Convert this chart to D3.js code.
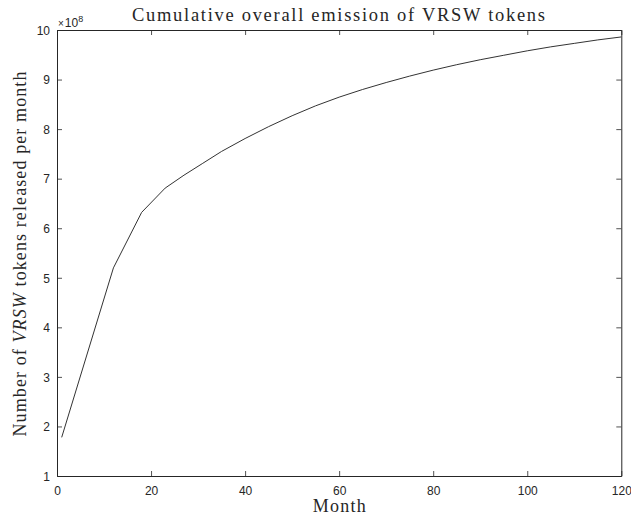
<!DOCTYPE html>
<html>
<head>
<meta charset="utf-8">
<script src="https://cdn.jsdelivr.net/npm/d3@7"></script>
<style>
    body { margin: 0; background: #fff; }
    svg { display: block; }
    .tick text { font-family: "Liberation Sans", Arial, sans-serif; font-size: 12px; fill: #262626; }
    .label { font-family: "Liberation Serif", "Times New Roman", serif; fill: #262626; }
</style>
</head>
<body>
<div id="container"></div>
<script>
"use strict";

const WIDTH = 631;
const HEIGHT = 518;
const MARGIN = { top: 30, right: 10, bottom: 42, left: 57 };

// months and cumulative VRSW tokens
const MONTHS = [1, 12, 18, 23, 27, 31, 35, 40, 45, 50, 55, 60, 65, 70, 75, 80, 85, 90, 95, 100, 105, 110, 115, 120];
const TOKENS = [1.78e8, 5.20e8, 6.32e8, 6.81e8, 7.07e8, 7.31e8, 7.55e8, 7.81e8, 8.05e8, 8.27e8, 8.47e8, 8.645e8,
    8.80e8, 8.94e8, 9.07e8, 9.19e8, 9.30e8, 9.40e8, 9.49e8, 9.58e8, 9.66e8, 9.73e8, 9.80e8, 9.86e8];

const X_TICKS = [0, 20, 40, 60, 80, 100, 120];
const Y_TICKS = [1e8, 2e8, 3e8, 4e8, 5e8, 6e8, 7e8, 8e8, 9e8, 10e8];

const TITLE = "Cumulative overall emission of VRSW tokens";
const X_LABEL = "Month";

const AXIS_COLOR = "#262626";
const TICK_LEN = 5;

const SVG = d3.select("div#container").append("svg")
    .attr("width", WIDTH)
    .attr("height", HEIGHT);

const innerW = 621.3 - MARGIN.left;
const innerH = 476 - MARGIN.top;

const xScale = d3.scaleLinear().domain([0, 120]).range([MARGIN.left, MARGIN.left + innerW]);
const yScale = d3.scaleLinear().domain([1e8, 10e8]).range([MARGIN.top + innerH, MARGIN.top]);

const data = MONTHS.map((m, i) => ({ month: m, tokens: TOKENS[i] }));

// bottom axis with ticks pointing inward
const xaxis = d3.axisBottom(xScale)
    .tickValues(X_TICKS)
    .tickSizeInner(-TICK_LEN)
    .tickSizeOuter(0)
    .tickPadding(10);

const yaxis = d3.axisLeft(yScale)
    .tickValues(Y_TICKS)
    .tickFormat(d => d / 1e8)
    .tickSizeInner(-TICK_LEN)
    .tickSizeOuter(0)
    .tickPadding(7);

const gx = SVG.append("g")
    .attr("transform", `translate(0, ${yScale(1e8)})`)
    .call(xaxis);

const gy = SVG.append("g")
    .attr("transform", `translate(${xScale(0)}, 0)`)
    .call(yaxis);

// mirrored top and right axes, ticks only
const gxTop = SVG.append("g")
    .attr("transform", `translate(0, ${yScale(10e8)})`)
    .call(d3.axisTop(xScale).tickValues(X_TICKS).tickSizeInner(-TICK_LEN).tickSizeOuter(0).tickFormat(""));

const gyRight = SVG.append("g")
    .attr("transform", `translate(${xScale(120)}, 0)`)
    .call(d3.axisRight(yScale).tickValues(Y_TICKS).tickSizeInner(-TICK_LEN).tickSizeOuter(0).tickFormat(""));

[gx, gy, gxTop, gyRight].forEach(function (g) {
    g.selectAll(".domain").attr("stroke", AXIS_COLOR).attr("stroke-width", 1);
    g.selectAll(".tick line").attr("stroke", AXIS_COLOR).attr("stroke-width", 0.8);
});

gx.selectAll(".tick text").attr("dy", "0.71em");
gy.selectAll(".tick text").attr("dy", "0.36em");

// exponent label
const expo = SVG.append("text")
    .attr("x", xScale(0) + 1)
    .attr("y", 27)
    .attr("font-family", "Liberation Sans, Arial, sans-serif")
    .attr("font-size", 10)
    .attr("fill", AXIS_COLOR);
expo.append("tspan").text("\u00d7");
expo.append("tspan").attr("dx", 1).attr("font-size", 12).text("10");
expo.append("tspan").attr("font-size", 9).attr("dy", -5).text("8");

// curve
const line = d3.line()
    .x(d => xScale(d.month))
    .y(d => yScale(d.tokens));

SVG.append("path")
    .attr("d", line(data))
    .attr("fill", "none")
    .attr("stroke", "#333")
    .attr("stroke-width", 1);

// title
SVG.append("text")
    .attr("class", "label")
    .attr("x", 338.5)
    .attr("y", 21)
    .attr("text-anchor", "middle")
    .attr("font-size", 18.5)
    .attr("textLength", 413)
    .attr("lengthAdjust", "spacing")
    .text(TITLE);

// x label
SVG.append("text")
    .attr("class", "label")
    .attr("x", (xScale(0) + xScale(120)) / 2)
    .attr("y", 512)
    .attr("text-anchor", "middle")
    .attr("font-size", 18)
    .attr("textLength", 53)
    .attr("lengthAdjust", "spacing")
    .text(X_LABEL);

// y label with italic VRSW
const ylab = SVG.append("text")
    .attr("class", "label")
    .attr("transform", `translate(26, ${(yScale(1e8) + yScale(10e8)) / 2 + 1}) rotate(-90)`)
    .attr("text-anchor", "middle")
    .attr("font-size", 18)
    .attr("textLength", 365)
    .attr("lengthAdjust", "spacing");
ylab.append("tspan").text("Number of ");
ylab.append("tspan").attr("font-style", "italic").text("VRSW");
ylab.append("tspan").text(" tokens released per month");
</script>
</body>
</html>
